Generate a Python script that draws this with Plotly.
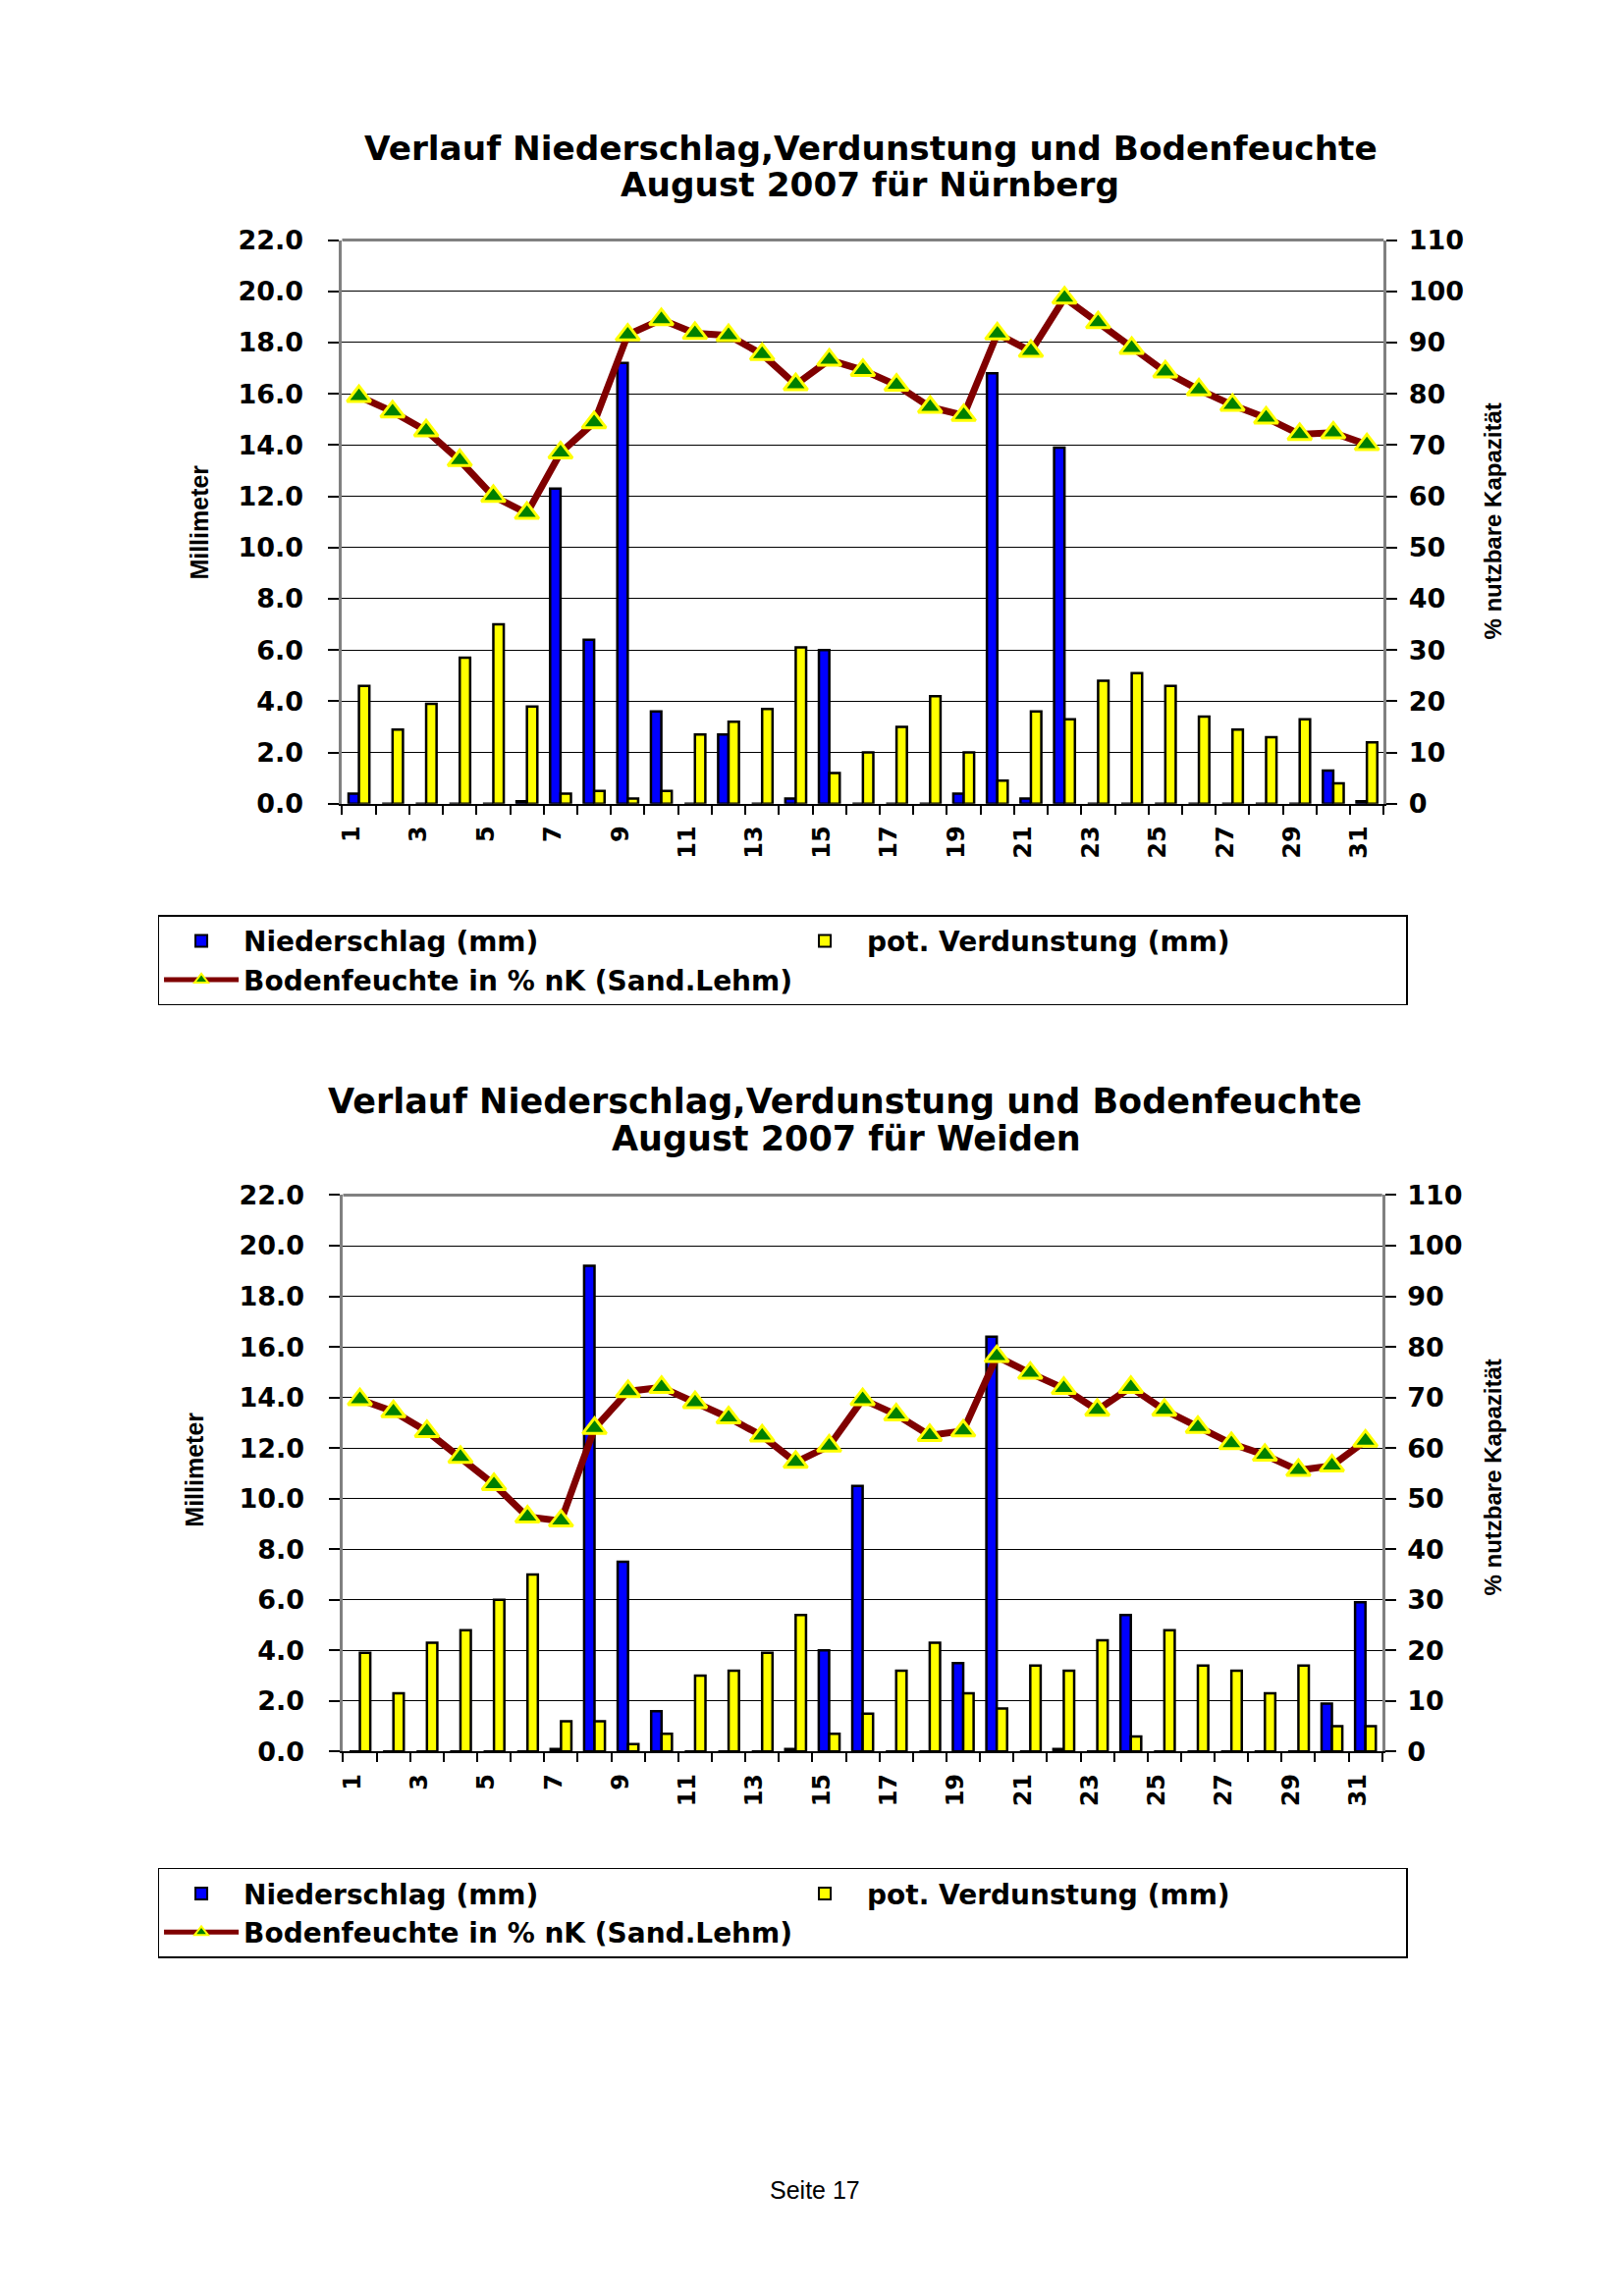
import plotly.graph_objects as go

# ---------------- data ----------------
days = list(range(1, 32))
tick_days = list(range(1, 32, 2))

nbg_niederschlag = [0.4, 0, 0, 0, 0, 0.1, 12.3, 6.4, 17.2, 3.6, 0, 2.7, 0, 0.2, 6.0, 0,
                    0, 0, 0.4, 16.8, 0.2, 13.9, 0, 0, 0, 0, 0, 0, 0, 1.3, 0.1]
nbg_verdunstung = [4.6, 2.9, 3.9, 5.7, 7.0, 3.8, 0.4, 0.5, 0.2, 0.5, 2.7, 3.2, 3.7, 6.1, 1.2, 2.0,
                   3.0, 4.2, 2.0, 0.9, 3.6, 3.3, 4.8, 5.1, 4.6, 3.4, 2.9, 2.6, 3.3, 0.8, 2.4]
nbg_bodenfeuchte = [79.5, 76.5, 72.8, 67.0, 60.0, 56.7, 68.5, 74.4, 91.5, 94.5, 91.8, 91.4, 87.7,
                    81.8, 86.6, 84.6, 81.7, 77.4, 75.8, 91.7, 88.3, 98.7, 93.9, 88.9, 84.3, 80.8,
                    77.8, 75.3, 72.1, 72.4, 70.1]

wei_niederschlag = [0, 0, 0, 0, 0, 0, 0.1, 19.2, 7.5, 1.6, 0, 0, 0, 0.1, 4.0, 10.5,
                    0, 0, 3.5, 16.4, 0, 0.1, 0, 5.4, 0, 0, 0, 0, 0, 1.9, 5.9]
wei_verdunstung = [3.9, 2.3, 4.3, 4.8, 6.0, 7.0, 1.2, 1.2, 0.3, 0.7, 3.0, 3.2, 3.9, 5.4, 0.7, 1.5,
                   3.2, 4.3, 2.3, 1.7, 3.4, 3.2, 4.4, 0.6, 4.8, 3.4, 3.2, 2.3, 3.4, 1.0, 1.0]
wei_bodenfeuchte = [69.6, 67.2, 63.3, 58.2, 52.8, 46.4, 45.6, 63.9, 71.2, 72.0, 69.0, 66.0, 62.4,
                    57.2, 60.4, 69.6, 66.6, 62.5, 63.4, 78.1, 74.8, 71.8, 67.5, 72.0, 67.5, 64.1,
                    60.9, 58.6, 55.6, 56.5, 61.4]

name_nied = "Niederschlag (mm)"
name_verd = "pot. Verdunstung (mm)"
name_bf = "Bodenfeuchte in % nK (Sand.Lehm)"
title_line1 = "Verlauf Niederschlag,Verdunstung und Bodenfeuchte"
title2_nbg = "August 2007 für Nürnberg"
title2_wei = "August 2007 für Weiden"
ytitle_left = "Millimeter"
ytitle_right = "% nutzbare Kapazität"
footer = "Seite 17"

# ---------------- layout constants ----------------
W, H = 1653, 2339
OFF = 8  # default page body margin of the html page
def px(x):
    return (x - OFF) / W
def py(y):
    return 1 - (y - OFF) / H

BOLD = "DejaVu Sans"
ARIAL = "Liberation Sans"

fig = go.Figure()

def add_chart(nied, verd, bf, xa, ya, ya2, legend):
    fig.add_trace(go.Bar(x=days, y=nied, name=name_nied, xaxis=xa, yaxis=ya, legend=legend,
                         marker=dict(color="#0000FF", line=dict(color="black", width=2.5))))
    fig.add_trace(go.Bar(x=days, y=verd, name=name_verd, xaxis=xa, yaxis=ya, legend=legend,
                         marker=dict(color="#FFFF00", line=dict(color="black", width=2.5))))
    fig.add_trace(go.Scatter(x=days, y=bf, name=name_bf, xaxis=xa, yaxis=ya2, legend=legend,
                             mode="lines+markers",
                             line=dict(color="#800000", width=7),
                             marker=dict(symbol="triangle-up", size=21, color="#008000",
                                         line=dict(color="#FFFF00", width=3))))

add_chart(nbg_niederschlag, nbg_verdunstung, nbg_bodenfeuchte, "x", "y", "y2", "legend")
add_chart(wei_niederschlag, wei_verdunstung, wei_bodenfeuchte, "x2", "y3", "y4", "legend2")

tickfont = dict(family=BOLD, size=27, color="black", weight="bold")
xtickfont = dict(family=BOLD, size=24, color="black", weight="bold")

def xaxis_cfg(x0, x1, anchor):
    return dict(domain=[px(x0), px(x1)], anchor=anchor, range=[0.5, 31.5],
                tickmode="array", tickvals=[d - 0.22 for d in tick_days],
                ticktext=[str(d) for d in tick_days],
                tickangle=-90, ticks="", tickfont=xtickfont, ticklabelstandoff=11,
                showline=True, linecolor="black", linewidth=2, showgrid=False, zeroline=False,
                minor=dict(ticks="outside", tick0=0.5, dtick=1, ticklen=9, tickcolor="black",
                           tickwidth=1.5, showgrid=False))

def yaxis_left(y0, y1, anchor):
    return dict(domain=[py(y1), py(y0)], anchor=anchor, range=[0, 22], dtick=2, tick0=0,
                tickformat=".1f", ticks="outside", ticklen=11, tickcolor="black", tickwidth=1.5,
                ticklabelstandoff=20, tickfont=tickfont,
                showline=True, linecolor="#808080", linewidth=3,
                showgrid=True, gridcolor="black", gridwidth=1, zeroline=False)

def yaxis_right(overlay, anchor):
    return dict(overlaying=overlay, anchor=anchor, side="right", range=[0, 110], dtick=10, tick0=0,
                ticks="outside", ticklen=11, tickcolor="black", tickwidth=1.5,
                ticklabelstandoff=6, tickfont=tickfont,
                showline=True, linecolor="#808080", linewidth=3,
                showgrid=False, zeroline=False)

legend_common = dict(orientation="h", entrywidth=544, entrywidthmode="pixels", itemwidth=76,
                     bgcolor="white", bordercolor="black", borderwidth=1.5,
                     font=dict(family=BOLD, size=28, color="black", weight="bold"),
                     xanchor="left", yanchor="top", traceorder="normal", itemsizing="constant")

fig.update_layout(
    width=W, height=H, autosize=False,
    margin=dict(l=0, r=0, t=0, b=0),
    paper_bgcolor="white", plot_bgcolor="white",
    barmode="group", bargap=0.38, bargroupgap=0,
    xaxis=xaxis_cfg(344.5, 1408.5, "y"),
    yaxis=yaxis_left(231.5, 813.5, "x"),
    yaxis2=yaxis_right("y", "x"),
    xaxis2=xaxis_cfg(345.5, 1407, "y3"),
    yaxis3=yaxis_left(1217.5, 1792, "x2"),
    yaxis4=yaxis_right("y3", "x2"),
    legend=dict(x=px(156), y=py(928.5), **legend_common),
    legend2=dict(x=px(156), y=py(1912), **legend_common),
    showlegend=True,
)

# gray top border of each plot area
for xr, yr in (("x", "y"), ("x2", "y3")):
    fig.add_shape(type="line", xref=f"{xr} domain", yref=f"{yr} domain", x0=0, x1=1, y0=1, y1=1,
                  line=dict(color="#808080", width=3))

def ann(text, x, y, size, family=BOLD, angle=0, bold=True):
    fig.add_annotation(text=text, x=px(x), y=py(y), xref="paper", yref="paper",
                       showarrow=False, textangle=angle, xanchor="center", yanchor="middle",
                       font=dict(family=family, size=size, color="black",
                                 weight="bold" if bold else "normal"))

# titles
ann(title_line1, 884.5, 137, 34.3)
ann(title2_nbg, 884, 174, 34.3)
ann(title_line1, 858, 1121, 35)
ann(title2_wei, 860, 1159, 35)

# axis titles
ann(ytitle_left, 199, 523, 25, family=ARIAL, angle=-90)
ann(ytitle_right, 1520, 522, 24, family=ARIAL, angle=-90)
ann(ytitle_left, 194, 1501, 25, family=ARIAL, angle=-90)
ann(ytitle_right, 1520, 1509, 24, family=ARIAL, angle=-90)

# footer
ann(footer, 827, 2244.5, 25, family=ARIAL, bold=False)

fig.write_html("out.html")
